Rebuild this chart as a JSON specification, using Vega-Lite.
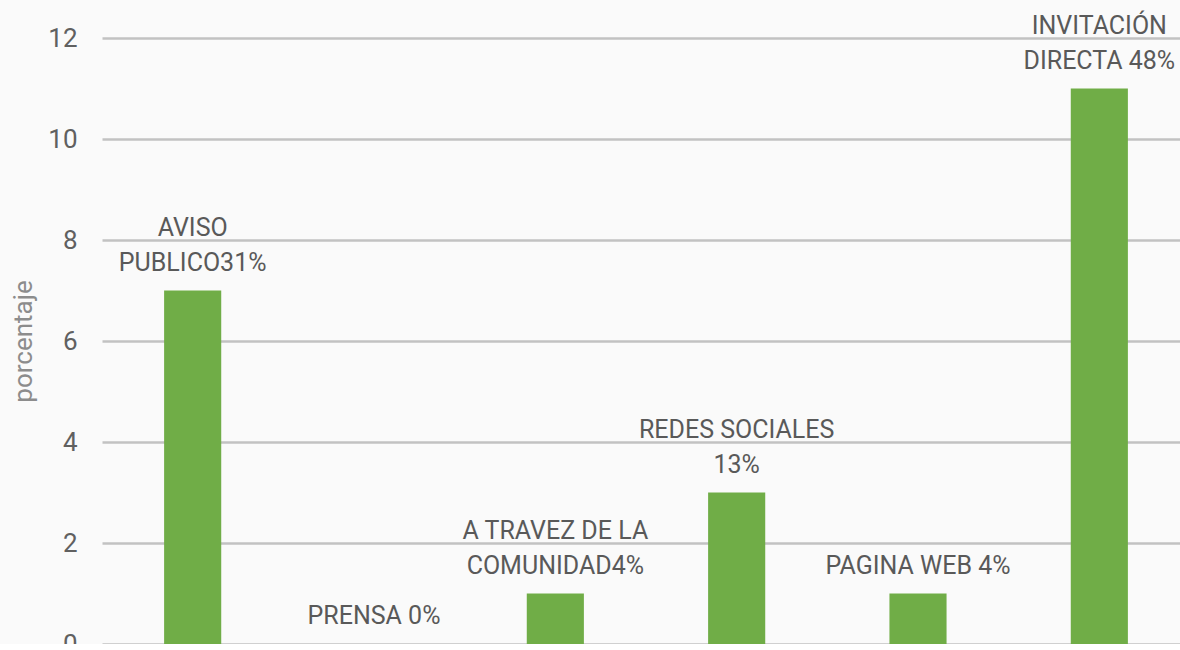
{
  "$schema": "https://vega.github.io/schema/vega-lite/v6.json",
  "autosize": "none",
  "padding": {"left": 102, "top": 38, "right": 0, "bottom": 0},
  "width": 1088,
  "height": 606,
  "background": "#fafafa",
  "data": {
    "values": [
      {"medio": "AVISO PUBLICO", "valor": 7, "linea1": "AVISO", "linea2": "PUBLICO31%"},
      {"medio": "PRENSA", "valor": 0, "linea1": "", "linea2": "PRENSA 0%"},
      {"medio": "A TRAVEZ DE LA COMUNIDAD", "valor": 1, "linea1": "A TRAVEZ DE LA", "linea2": "COMUNIDAD4%"},
      {"medio": "REDES SOCIALES", "valor": 3, "linea1": "REDES SOCIALES", "linea2": "13%"},
      {"medio": "PAGINA WEB", "valor": 1, "linea1": "", "linea2": "PAGINA WEB 4%"},
      {"medio": "INVITACIÓN DIRECTA", "valor": 11, "linea1": "INVITACIÓN", "linea2": "DIRECTA 48%"}
    ]
  },
  "config": {
    "view": {"stroke": null},
    "font": "Roboto"
  },
  "encoding": {
    "x": {
      "field": "medio",
      "type": "nominal",
      "sort": null,
      "axis": null,
      "scale": {"paddingInner": 0.685, "paddingOuter": 0.3425}
    },
    "y": {
      "field": "valor",
      "type": "quantitative",
      "scale": {"domain": [0, 12], "nice": false},
      "axis": {
        "title": "porcentaje",
        "titleFont": "Roboto",
        "titleFontSize": 26,
        "titleFontWeight": "normal",
        "titleColor": "#8c8c8c",
        "titlePadding": 11,
        "values": [0, 2, 4, 6, 8, 10, 12],
        "labelFontSize": 26,
        "labelColor": "#606060",
        "labelPadding": 25,
        "domain": false,
        "ticks": false,
        "grid": true,
        "gridColor": "#c2c2c2",
        "gridWidth": 2.5
      }
    }
  },
  "layer": [
    {"mark": {"type": "bar", "color": "#70ad47"}},
    {
      "mark": {
        "type": "text",
        "baseline": "bottom",
        "dy": -50,
        "fontSize": 25,
        "color": "#595959"
      },
      "encoding": {"text": {"field": "linea1", "type": "nominal"}}
    },
    {
      "mark": {
        "type": "text",
        "baseline": "bottom",
        "dy": -15,
        "fontSize": 25,
        "color": "#595959"
      },
      "encoding": {"text": {"field": "linea2", "type": "nominal"}}
    }
  ]
}
